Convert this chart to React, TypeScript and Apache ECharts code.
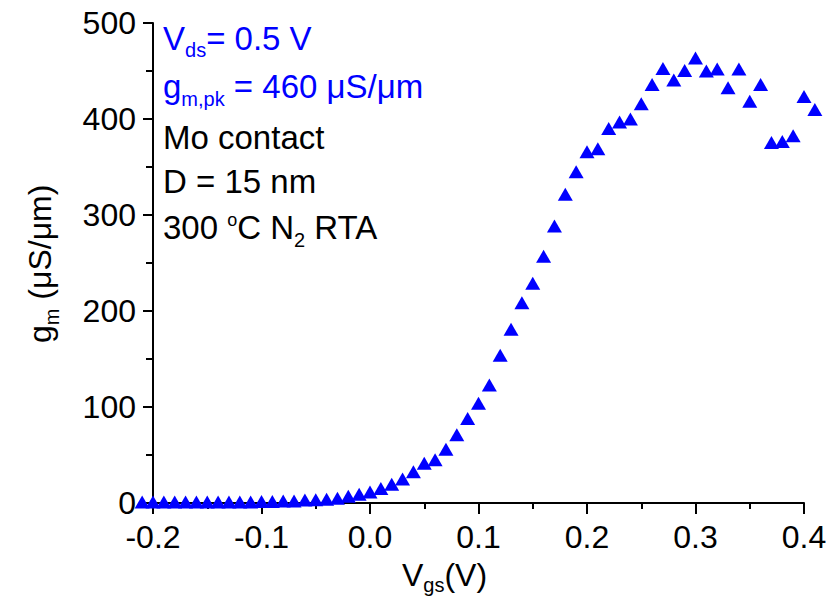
import React, { useEffect, useRef } from "react";
import * as echarts from "echarts";

// Gate voltage sweep (V) and transconductance (µS/µm)
const vgs: number[] = [
  -0.21, -0.2, -0.19, -0.18, -0.17, -0.16, -0.15, -0.14, -0.13, -0.12, -0.11,
  -0.1, -0.09, -0.08, -0.07, -0.06, -0.05, -0.04, -0.03, -0.02, -0.01, 0.0,
  0.01, 0.02, 0.03, 0.04, 0.05, 0.06, 0.07, 0.08, 0.09, 0.1, 0.11, 0.12, 0.13,
  0.14, 0.15, 0.16, 0.17, 0.18, 0.19, 0.2, 0.21, 0.22, 0.23, 0.24, 0.25, 0.26,
  0.27, 0.28, 0.29, 0.3, 0.31, 0.32, 0.33, 0.34, 0.35, 0.36, 0.37, 0.38, 0.39,
  0.4, 0.41,
];
const gm: number[] = [
  1, 1, 1, 1, 1, 1, 1, 1, 1, 1, 1,
  1.5, 1.5, 2, 2, 3, 3.5, 4, 5, 7, 9, 11.5,
  15, 19.5, 25, 32.5, 41.5, 45, 56, 71, 88, 104, 123, 154, 181,
  208.5, 229, 257, 288.5, 321.5, 345, 366, 369, 390, 397, 400, 416, 436,
  452.5, 440.5, 450.5, 463.5, 450, 452, 432.5, 452, 418.5, 436, 375.5, 376.5, 382.5,
  423.5, 410,
];

const xTicks = { min: -0.2, max: 0.4, step: 0.1 };
const yTicks = { min: 0, max: 500, step: 100 };

const FAMILY = "'Liberation Sans', Arial, sans-serif";
const BLUE = "#0000ff";
const MAIN = 32;
const NOTE = 33;
const SUB = 20;

type Piece = { text: string; size?: number; dy?: number };

const measureCtx =
  typeof document !== "undefined"
    ? document.createElement("canvas").getContext("2d")
    : null;

function textWidth(text: string, size: number): number {
  if (!measureCtx) return text.length * size * 0.55;
  measureCtx.font = `${size}px 'Liberation Sans', Arial, sans-serif`;
  return measureCtx.measureText(text).width;
}

// Lay out a run of text pieces (normal, sub- and superscripts) left to right.
function textRun(pieces: Piece[], color: string, base: number) {
  let x = 0;
  return pieces.map((p) => {
    const size = p.size ?? base;
    const el = {
      type: "text",
      x,
      y: p.dy ?? 0,
      silent: true,
      style: {
        text: p.text,
        fontSize: size,
        fontFamily: FAMILY,
        fill: color,
        align: "left",
        verticalAlign: "middle",
      },
    };
    x += textWidth(p.text, size);
    return el;
  });
}

function lineGroup(
  pieces: Piece[],
  x: number,
  y: number,
  color: string,
  rotation = 0,
  base = MAIN
) {
  return { type: "group", x, y, rotation, children: textRun(pieces, color, base) };
}

export default function App() {
  const ref = useRef<HTMLDivElement>(null);

  useEffect(() => {
    if (!ref.current) return;
    const chart = echarts.init(ref.current, undefined, { renderer: "svg" });
    const data = vgs.map((v, i) => [v, gm[i]]);

    chart.setOption({
      animation: false,
      backgroundColor: "#ffffff",
      grid: { left: 153, right: 36, top: 23, bottom: 96, containLabel: false },
      xAxis: {
        type: "value",
        min: xTicks.min,
        max: xTicks.max,
        interval: xTicks.step,
        axisLine: { show: true, onZero: false, lineStyle: { color: "#000", width: 2 } },
        axisTick: { show: true, inside: false, length: 11, lineStyle: { color: "#000", width: 2 } },
        minorTick: { show: true, splitNumber: 2, length: 6, lineStyle: { color: "#000", width: 2 } },
        splitLine: { show: false },
        axisLabel: {
          color: "#000",
          fontSize: MAIN,
          fontFamily: FAMILY,
          margin: 18,
          formatter: (v: number) => v.toFixed(1),
        },
      },
      yAxis: {
        type: "value",
        min: yTicks.min,
        max: yTicks.max,
        interval: yTicks.step,
        axisLine: { show: true, onZero: false, lineStyle: { color: "#000", width: 2 } },
        axisTick: { show: true, inside: false, length: 10, lineStyle: { color: "#000", width: 2 } },
        minorTick: { show: true, splitNumber: 2, length: 7, lineStyle: { color: "#000", width: 2 } },
        splitLine: { show: false },
        axisLabel: {
          color: "#000",
          fontSize: MAIN,
          fontFamily: FAMILY,
          margin: 17,
        },
      },
      series: [
        {
          type: "scatter",
          data,
          clip: false,
          symbol: "triangle",
          symbolSize: [15, 13],
          itemStyle: { color: BLUE, opacity: 1 },
          z: 5,
        },
      ],
      graphic: [
        // annotation block
        lineGroup(
          [{ text: "V" }, { text: "ds", size: SUB, dy: 12 }, { text: "= 0.5 V" }],
          163, 38, BLUE, 0, NOTE
        ),
        lineGroup(
          [{ text: "g" }, { text: "m,pk", size: SUB, dy: 13 }, { text: " = 460 \u03bcS/\u03bcm" }],
          163, 86, BLUE, 0, NOTE
        ),
        lineGroup([{ text: "Mo contact" }], 163, 137, "#000", 0, NOTE),
        lineGroup([{ text: "D = 15 nm" }], 163, 181, "#000", 0, NOTE),
        lineGroup(
          [
            { text: "300 " },
            { text: "o", size: 18, dy: -7 },
            { text: "C N" },
            { text: "2", size: SUB, dy: 13 },
            { text: " RTA" },
          ],
          163, 227, "#000", 0, NOTE
        ),
        // x axis title
        lineGroup(
          [{ text: "V" }, { text: "gs", size: SUB, dy: 10 }, { text: "(V)" }],
          402, 575, "#000"
        ),
        // y axis title (rotated, reads bottom to top)
        lineGroup(
          [{ text: "g" }, { text: "m", size: SUB, dy: 12 }, { text: " (\u03bcS/\u03bcm)" }],
          40, 343, "#000", Math.PI / 2
        ),
      ],
    });

    return () => chart.dispose();
  }, []);

  return (
    <div
      ref={ref}
      style={{ width: 840, height: 599, position: "absolute", left: 0, top: 0, background: "#fff" }}
    />
  );
}
